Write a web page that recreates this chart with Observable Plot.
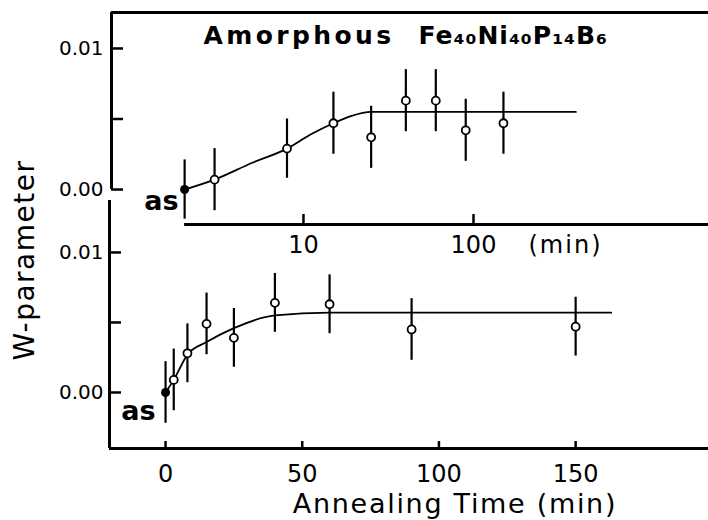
<!DOCTYPE html>
<html><head><meta charset="utf-8">
<script src="https://cdn.jsdelivr.net/npm/d3@7"></script>
<script src="https://cdn.jsdelivr.net/npm/@observablehq/plot@0.6"></script>
<style>
body{margin:0;background:#fff;}
#wrap{position:relative;width:708px;height:520px;overflow:hidden;background:#fff;font-family:"DejaVu Sans",sans-serif;}
#wrap svg{position:absolute;left:0;}
</style></head><body><div id="wrap"></div>
<script>
// ---- data ----
const times = [3, 8, 15, 25, 40, 60, 90, 150];           // annealing time (min)
const asLabel = "as";                                    // as-quenched sample
const asLogPos = 2;                                      // where "as" sits on the log axis
// upper panel (log time axis)
const wTop   = [0.0007, 0.0029, 0.0047, 0.0037, 0.0063, 0.0063, 0.0042, 0.0047];
const eTop   = [0.0022, 0.0021, 0.0022, 0.0022, 0.0022, 0.0022, 0.0022, 0.0022];
const asTopW = 0.0, asTopE = 0.0021;
const fitTopT = [2, 3, 5, 8, 11, 15, 19, 25, 40, 400];
const fitTopW = [0, 0.0007, 0.0019, 0.0029, 0.0039, 0.0047, 0.0052, 0.0055, 0.0055, 0.0055];
// lower panel (linear time axis)
const wBot   = [0.0009, 0.0028, 0.0049, 0.0039, 0.0064, 0.0063, 0.0045, 0.0047];
const eBot   = [0.0022, 0.0021, 0.0022, 0.0021, 0.0021, 0.0021, 0.0022, 0.0021];
const asBotT = 0, asBotW = 0.0, asBotE = 0.0022;
const fitBotT = [0, 3, 8, 15, 25, 40, 60, 163];
const fitBotW = [0, 0.0009, 0.0027, 0.0036, 0.0046, 0.0055, 0.0057, 0.0057];
// ticks
const yTicks = [0, 0.005, 0.01];
const yTickLabels = {0: "0.00", 0.01: "0.01"};
const xTopTicks = [10, 100];
const xBotTicks = [0, 50, 100, 150];
const title1 = "Amorphous";
const title2 = "Fe\u2084\u2080Ni\u2084\u2080P\u2081\u2084B\u2086";
const xLabel = "Annealing Time (min)";
const yLabel = "W-parameter";
const unitTop = "(min)";

// ---- tables ----
const topPts = times.map((t, i) => ({t, w: wTop[i], e: eTop[i]}));
const botPts = times.map((t, i) => ({t, w: wBot[i], e: eBot[i]}));
const topAs = [{t: asLogPos, w: asTopW, e: asTopE}];
const botAs = [{t: asBotT, w: asBotW, e: asBotE}];
const topFit = fitTopT.map((t, i) => ({t, w: fitTopW[i]}));
const botFit = fitBotT.map((t, i) => ({t, w: fitBotW[i]}));

const xTopDom = [0.743, 2410], yTopDom = [-0.00248, 0.01255];
const xBotDom = [-20.5, 198.6], yBotDom = [-0.004, 0.01371];
const ff = "DejaVu Sans";
const yFmt = d => yTickLabels[d] ?? "";

const common = (d) => [
  Plot.ruleX(d, {x: "t", y1: r => r.w - r.e, y2: r => r.w + r.e, strokeWidth: 2.2}),
  Plot.dot(d, {x: "t", y: "w", r: 4, fill: "white", stroke: "black", strokeWidth: 1.8})
];

const plotTop = Plot.plot({
  width: 708, height: 260,
  marginTop: 12, marginBottom: 36, marginLeft: 111, marginRight: 0,
  style: {background: "transparent", overflow: "visible", fontFamily: ff, color: "black"},
  x: {type: "log", domain: xTopDom},
  y: {domain: yTopDom},
  marks: [
    Plot.ruleY([yTopDom[1]], {x1: xTopDom[0], x2: xTopDom[1], strokeWidth: 3}),
    Plot.ruleX([xTopDom[0]], {y1: 0, y2: yTopDom[1], strokeWidth: 3}),
    Plot.ruleY([yTopDom[0]], {x1: asLogPos, x2: xTopDom[1], strokeWidth: 3}),
    Plot.axisY({ticks: yTicks, tickFormat: yFmt, tickSize: -12, tickPadding: 20, strokeWidth: 2.5, fontSize: 20, fontFamily: ff, label: null}),
    Plot.axisX({ticks: xTopTicks, tickFormat: d => String(d), tickSize: -10, tickPadding: 21, strokeWidth: 2.5, fontSize: 24, fontFamily: ff, label: null}),
    Plot.text([unitTop], {x: [100], frameAnchor: "bottom", dx: 55, dy: 11, lineAnchor: "top", textAnchor: "start", fontSize: 24, fontFamily: ff}),
    Plot.line(topFit, {x: "t", y: "w", curve: "monotone-x", strokeWidth: 1.8}),
    Plot.ruleX(topAs, {x: "t", y1: r => r.w - r.e, y2: r => r.w + r.e, strokeWidth: 2.2}),
    Plot.dot(topAs, {x: "t", y: "w", r: 4.5, fill: "black"}),
    ...common(topPts),
    Plot.text(topAs, {x: "t", y: "w", text: () => asLabel, dx: -6, dy: 20, lineAnchor: "bottom", textAnchor: "end", fontSize: 27, fontWeight: "bold", fontFamily: ff}),
    Plot.text([title1], {frameAnchor: "top-left", dx: 92, dy: 31, lineAnchor: "bottom", textAnchor: "start", fontSize: 25, fontWeight: "bold", fontFamily: ff}),
    Plot.text([title2], {frameAnchor: "top-left", dx: 307, dy: 31, lineAnchor: "bottom", textAnchor: "start", fontSize: 25, fontWeight: "bold", fontFamily: ff})
  ]
});

const plotBot = Plot.plot({
  width: 708, height: 390,
  marginTop: 70, marginBottom: 72, marginLeft: 109, marginRight: 0,
  style: {background: "transparent", overflow: "visible", fontFamily: ff, color: "black"},
  x: {domain: xBotDom},
  y: {domain: yBotDom},
  marks: [
    Plot.ruleX([xBotDom[0]], {y1: yBotDom[0], y2: yBotDom[1], strokeWidth: 3}),
    Plot.ruleY([yBotDom[0]], {x1: xBotDom[0], x2: xBotDom[1], strokeWidth: 3}),
    Plot.axisY({ticks: yTicks, tickFormat: yFmt, tickSize: -12, tickPadding: 18, strokeWidth: 2.5, fontSize: 20, fontFamily: ff, label: null}),
    Plot.axisX({ticks: xBotTicks, tickSize: -7, tickPadding: 23, strokeWidth: 2.5, fontSize: 24, fontFamily: ff, label: null}),
    Plot.text([xLabel], {frameAnchor: "bottom", dx: 46, dy: 45, lineAnchor: "top", fontSize: 27, fontFamily: ff}),
    Plot.text([yLabel], {frameAnchor: "left", dx: -84, dy: 36, rotate: -90, lineAnchor: "middle", fontSize: 28, fontFamily: ff}),
    Plot.line(botFit, {x: "t", y: "w", curve: "monotone-x", strokeWidth: 1.8}),
    Plot.ruleX(botAs, {x: "t", y1: r => r.w - r.e, y2: r => r.w + r.e, strokeWidth: 2.2}),
    Plot.dot(botAs, {x: "t", y: "w", r: 4.5, fill: "black"}),
    ...common(botPts),
    Plot.text(botAs, {x: "t", y: "w", text: () => asLabel, dx: -10, dy: 28, lineAnchor: "bottom", textAnchor: "end", fontSize: 27, fontWeight: "bold", fontFamily: ff})
  ]
});

plotTop.style.top = "0px";
plotBot.style.top = "130px";
const wrap = document.getElementById("wrap");
wrap.appendChild(plotTop);
wrap.appendChild(plotBot);

const spacing = {[title1]: "3.4px", [title2]: "1px", [xLabel]: "1.7px", [yLabel]: "1.5px", [unitTop]: "2px"};
wrap.querySelectorAll("text").forEach(t => { const s = spacing[t.textContent]; if (s) t.style.letterSpacing = s; });
</script></body></html>
